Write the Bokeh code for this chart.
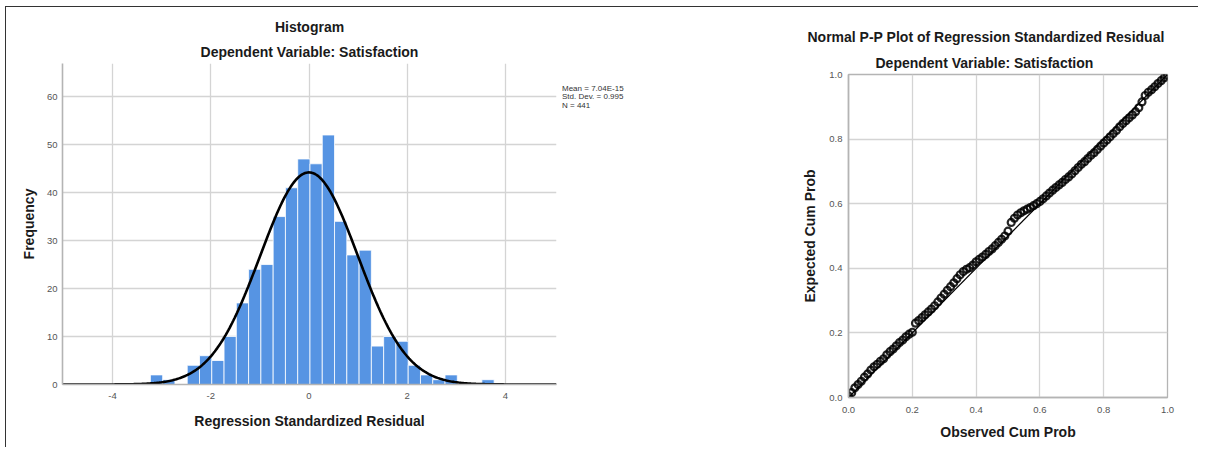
import numpy as np
from bokeh.plotting import figure
from bokeh.models import Range1d, FixedTicker, Label, PrintfTickFormatter, Title
from bokeh.layouts import row
from bokeh.embed import file_html
from bokeh.resources import INLINE

# ---------------- data ----------------
# Histogram of regression standardized residuals
bin_start = -3.23
bin_width = 0.25
counts = [2, 1, 0, 4, 6, 5, 10, 17, 24, 25, 35, 41, 47, 46, 52,
          34, 27, 28, 8, 10, 9, 4, 2, 1, 2, 0, 0, 1]
res_mean = 7.04e-15
res_std = 0.995
res_n = 441

hist_xticks = [-4, -2, 0, 2, 4]
hist_yticks = [0, 10, 20, 30, 40, 50, 60]
stats_lines = ["Mean = 7.04E-15", "Std. Dev. = 0.995", "N = 441"]

# Normal P-P plot
pp_observed = [0.00, 0.01, 0.02, 0.03, 0.04, 0.05, 0.06, 0.07, 0.08, 0.09,
               0.10, 0.11, 0.12, 0.13, 0.14, 0.15, 0.16, 0.17, 0.18, 0.19,
               0.20, 0.21, 0.22, 0.23, 0.24, 0.25, 0.26, 0.27, 0.28, 0.29,
               0.30, 0.31, 0.32, 0.33, 0.34, 0.35, 0.36, 0.37, 0.38, 0.39,
               0.40, 0.41, 0.42, 0.43, 0.44, 0.45, 0.46, 0.47, 0.48, 0.49,
               0.50, 0.51, 0.52, 0.53, 0.54, 0.55, 0.56, 0.57, 0.58, 0.59,
               0.60, 0.61, 0.62, 0.63, 0.64, 0.65, 0.66, 0.67, 0.68, 0.69,
               0.70, 0.71, 0.72, 0.73, 0.74, 0.75, 0.76, 0.77, 0.78, 0.79,
               0.80, 0.81, 0.82, 0.83, 0.84, 0.85, 0.86, 0.87, 0.88, 0.89,
               0.90, 0.91, 0.92, 0.93, 0.94, 0.95, 0.96, 0.97, 0.98, 0.99,
               1.00]
pp_expected = [0.005, 0.015, 0.030, 0.040, 0.050, 0.063, 0.073, 0.085, 0.095, 0.103,
               0.112, 0.120, 0.132, 0.142, 0.150, 0.160, 0.170, 0.178, 0.188, 0.196,
               0.202, 0.230, 0.238, 0.247, 0.256, 0.265, 0.274, 0.284, 0.296, 0.308,
               0.320, 0.332, 0.343, 0.355, 0.368, 0.380, 0.390, 0.397, 0.402, 0.410,
               0.420, 0.428, 0.435, 0.443, 0.452, 0.460, 0.470, 0.480, 0.490, 0.500,
               0.515, 0.542, 0.555, 0.565, 0.572, 0.578, 0.583, 0.588, 0.594, 0.600,
               0.607, 0.615, 0.624, 0.633, 0.642, 0.650, 0.658, 0.666, 0.675, 0.683,
               0.692, 0.702, 0.712, 0.722, 0.730, 0.740, 0.750, 0.758, 0.768, 0.778,
               0.788, 0.797, 0.807, 0.817, 0.827, 0.838, 0.848, 0.857, 0.866, 0.875,
               0.885, 0.897, 0.915, 0.935, 0.945, 0.953, 0.962, 0.972, 0.981, 0.990,
               0.998]
pp_diag = [0.0, 1.0]
pp_ticks = [0.0, 0.2, 0.4, 0.6, 0.8, 1.0]

FONT = "Liberation Sans"
GRID = "#d4d4d4"
AXIS = "#b4b4b4"
TICKTXT = "#555555"
TXT = "#1a1a1a"


def style_axes(p):
    for g in (p.xgrid, p.ygrid):
        g.grid_line_color = GRID
        g.grid_line_width = 1.3
    for ax in (p.xaxis, p.yaxis):
        ax.axis_line_color = AXIS
        ax.axis_line_width = 1.6
        ax.major_tick_line_color = None
        ax.minor_tick_line_color = None
        ax.major_tick_out = 0
        ax.major_tick_in = 0
        ax.minor_tick_out = 0
        ax.major_label_text_font = FONT
        ax.major_label_text_font_size = "9.5px"
        ax.major_label_text_color = TICKTXT
        ax.axis_label_text_font = FONT
        ax.axis_label_text_font_size = "14px"
        ax.axis_label_text_font_style = "bold"
        ax.axis_label_text_color = TXT


def title(text, **kw):
    return Title(text=text, text_font=FONT, text_font_size="14px", text_font_style="bold",
                 text_color=TXT, **kw)


# ---------------- histogram ----------------
p1 = figure(width=555, height=427, title=None,
            x_range=Range1d(-5.02, 5.04), y_range=Range1d(0, 66.9),
            output_backend="svg", toolbar_location=None,
            min_border_left=56, min_border_right=5, min_border_top=56, min_border_bottom=50)
p1.outline_line_color = None
p1.border_fill_color = "white"

left = [bin_start + i * bin_width for i in range(len(counts))]
right = [l + bin_width for l in left]
p1.quad(left=left, right=right, bottom=0, top=counts,
        fill_color="#5694e3", line_color="white", line_width=0.8)

xs = np.linspace(-5.02, 5.04, 400)
ys = res_n * bin_width * np.exp(-0.5 * ((xs - res_mean) / res_std) ** 2) / (res_std * np.sqrt(2 * np.pi))
p1.line(xs, ys, line_color="black", line_width=2.6)

p1.xaxis.ticker = FixedTicker(ticks=hist_xticks)
p1.yaxis.ticker = FixedTicker(ticks=hist_yticks)
p1.xaxis.formatter = PrintfTickFormatter(format="%d")
style_axes(p1)
p1.xaxis.axis_label = "Regression Standardized Residual"
p1.yaxis.axis_label = "Frequency"
p1.xaxis.major_label_standoff = 8
p1.xaxis.axis_label_standoff = 11
p1.yaxis.major_label_standoff = 5
p1.yaxis.axis_label_standoff = 7

p1.add_layout(title("Dependent Variable: Satisfaction", align="center", standoff=7), "above")
p1.add_layout(title("Histogram", align="center", standoff=7), "above")

# ---------------- statistics box ----------------
p3 = figure(width=207, height=427, title=None,
            x_range=Range1d(0, 207), y_range=Range1d(0, 321),
            x_axis_type=None, y_axis_type=None,
            output_backend="svg", toolbar_location=None,
            min_border_left=0, min_border_right=0, min_border_top=56, min_border_bottom=50)
p3.outline_line_color = None
p3.border_fill_color = "white"
for i, s in enumerate(stats_lines):
    p3.add_layout(Label(x=0.5, y=296.5 - 8.5 * i, text=s, text_align="left", text_baseline="middle",
                        text_font=FONT, text_font_size="8px", text_color="#333333"))

# ---------------- P-P plot ----------------
p2 = figure(width=430, height=429, title=None,
            x_range=Range1d(0, 1), y_range=Range1d(0, 1),
            output_backend="svg", toolbar_location=None,
            min_border_left=80, min_border_right=31, min_border_top=56, min_border_bottom=50)
p2.margin = (11, 0, 0, 0)
p2.outline_line_color = AXIS
p2.outline_line_width = 1.3
p2.border_fill_color = "white"

p2.line(pp_diag, pp_diag, line_color="black", line_width=1.2)
p2.scatter(pp_observed, pp_expected, marker="circle", size=7, fill_color=None,
           line_color="black", line_width=2.2, line_alpha=0.85)

p2.xaxis.ticker = FixedTicker(ticks=pp_ticks)
p2.yaxis.ticker = FixedTicker(ticks=pp_ticks)
p2.xaxis.formatter = PrintfTickFormatter(format="%.1f")
p2.yaxis.formatter = PrintfTickFormatter(format="%.1f")
style_axes(p2)
p2.xaxis.axis_label = "Observed Cum Prob"
p2.yaxis.axis_label = "Expected Cum Prob"
p2.xaxis.major_label_standoff = 9
p2.xaxis.axis_label_standoff = 8
p2.yaxis.major_label_standoff = 6
p2.yaxis.axis_label_standoff = 8

p2.add_layout(title("Dependent Variable: Satisfaction", align="left", offset=27, standoff=8), "above")
p2.add_layout(title("Normal P-P Plot of Regression Standardized Residual", align="left",
                    offset=-41, standoff=8), "above")

layout = row(p1, p3, p2, margin=(6, 0, 0, 5),
             styles={"border-top": "1.5px solid #333333", "border-left": "1.5px solid #333333"})

open("out.html", "w").write(file_html(layout, INLINE))
